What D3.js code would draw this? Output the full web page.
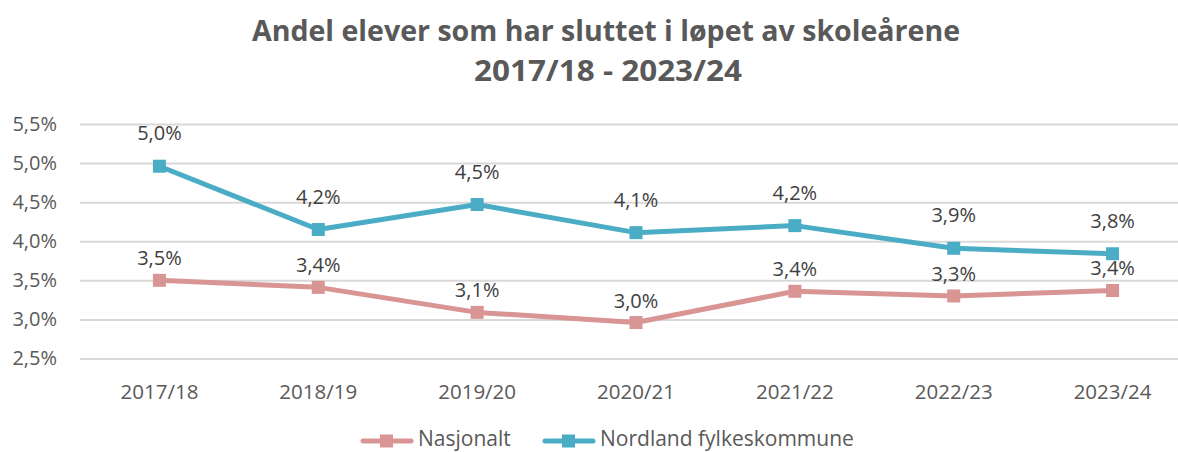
<!DOCTYPE html>
<html><head><meta charset="utf-8">
<script src="https://cdn.jsdelivr.net/npm/d3@7"></script>
<style>body{margin:0;background:#fff;}svg{display:block;}</style>
</head><body>
<svg id="c" width="1178" height="452"></svg>
<script>
const categories = ["2017/18","2018/19","2019/20","2020/21","2021/22","2022/23","2023/24"];
const nasjonalt = [3.50, 3.41, 3.09, 2.96, 3.36, 3.30, 3.37];
const nordland = [4.96, 4.15, 4.47, 4.11, 4.20, 3.91, 3.84];
const nasjonaltLabels = ["3,5%","3,4%","3,1%","3,0%","3,4%","3,3%","3,4%"];
const nordlandLabels = ["5,0%","4,2%","4,5%","4,1%","4,2%","3,9%","3,8%"];
const yTicks = [2.5,3.0,3.5,4.0,4.5,5.0,5.5];
const yTickLabels = ["2,5%","3,0%","3,5%","4,0%","4,5%","5,0%","5,5%"];
const titleLines = ["Andel elever som har sluttet i løpet av skoleårene","2017/18 - 2023/24"];
const seriesNames = ["Nasjonalt","Nordland fylkeskommune"];

(function(){
const svg = d3.select("#c");
const font = "'Open Sans', 'DejaVu Sans', sans-serif";
const pLeft = 80, pRight = 1192, pTop = 124, pBottom = 358.5;
const x = d3.scaleBand().domain(categories).range([pLeft, pRight]);
const y = d3.scaleLinear().domain([2.5, 5.5]).range([pBottom, pTop]);

// title
svg.append("text").attr("x", 606).attr("y", 41).attr("text-anchor","middle")
  .attr("font-family", font).attr("font-weight","bold").attr("font-size",29)
  .attr("fill","#595959").attr("textLength",708).attr("lengthAdjust","spacingAndGlyphs")
  .text(titleLines[0]);
svg.append("text").attr("x", 608).attr("y", 81).attr("text-anchor","middle")
  .attr("font-family", font).attr("font-weight","bold").attr("font-size",29)
  .attr("fill","#595959").attr("textLength",268).attr("lengthAdjust","spacingAndGlyphs")
  .text(titleLines[1]);

// grid
const yAxis = d3.axisLeft(y).tickValues(yTicks).tickSize(-(pRight-pLeft)).tickFormat((d,i)=>yTickLabels[i]);
const gy = svg.append("g").attr("transform",`translate(${pLeft},0)`).call(yAxis);
gy.select(".domain").remove();
gy.selectAll(".tick line").attr("stroke","#D9D9D9").attr("stroke-width",2);
gy.selectAll(".tick text").attr("x",-23).attr("font-family",font).attr("font-size",20).attr("fill","#595959");

// x axis labels
const xAxis = d3.axisBottom(x).tickSize(0).tickPadding(0);
const gx = svg.append("g").attr("transform",`translate(0,${pBottom})`).call(xAxis);
gx.select(".domain").remove();
gx.selectAll(".tick text").attr("dy",0).attr("y",40).attr("font-family",font).attr("font-size",20.5).attr("fill","#595959");

const series = [
  {name: seriesNames[0], values: nasjonalt, labels: nasjonaltLabels, color: "#D99594", off: 15},
  {name: seriesNames[1], values: nordland, labels: nordlandLabels, color: "#4BACC6", off: 26}
];
const cx = d => x(d) + x.bandwidth()/2;
const line = d3.line().x((d,i)=>cx(categories[i])).y(d=>y(d));

series.forEach(s => {
  svg.append("path").datum(s.values).attr("d", line).attr("fill","none")
    .attr("stroke", s.color).attr("stroke-width",5).attr("stroke-linejoin","round").attr("stroke-linecap","round");
  svg.selectAll(null).data(s.values).enter().append("rect")
    .attr("x",(d,i)=>cx(categories[i])-6.5).attr("y",d=>y(d)-6.5)
    .attr("width",13).attr("height",13).attr("fill",s.color);
  svg.selectAll(null).data(s.values).enter().append("text")
    .attr("x",(d,i)=>cx(categories[i])).attr("y",d=>y(d)-s.off)
    .attr("text-anchor","middle").attr("font-family",font).attr("font-size",20).attr("fill","#404040")
    .text((d,i)=>s.labels[i]);
});

// legend
const legendItems = [{x:360, tx:418}, {x:542, tx:600}];
series.forEach((s,i) => {
  const L = legendItems[i];
  const g = svg.append("g");
  g.append("line").attr("x1",L.x+3).attr("x2",L.x+51).attr("y1",441).attr("y2",441)
    .attr("stroke",s.color).attr("stroke-width",5).attr("stroke-linecap","round");
  g.append("rect").attr("x",L.x+20).attr("y",434.5).attr("width",13).attr("height",13).attr("fill",s.color);
  g.append("text").attr("x",L.tx).attr("y",446).attr("font-family",font).attr("font-size",21).attr("fill","#595959").text(s.name);
});
})();
</script>
</body></html>
